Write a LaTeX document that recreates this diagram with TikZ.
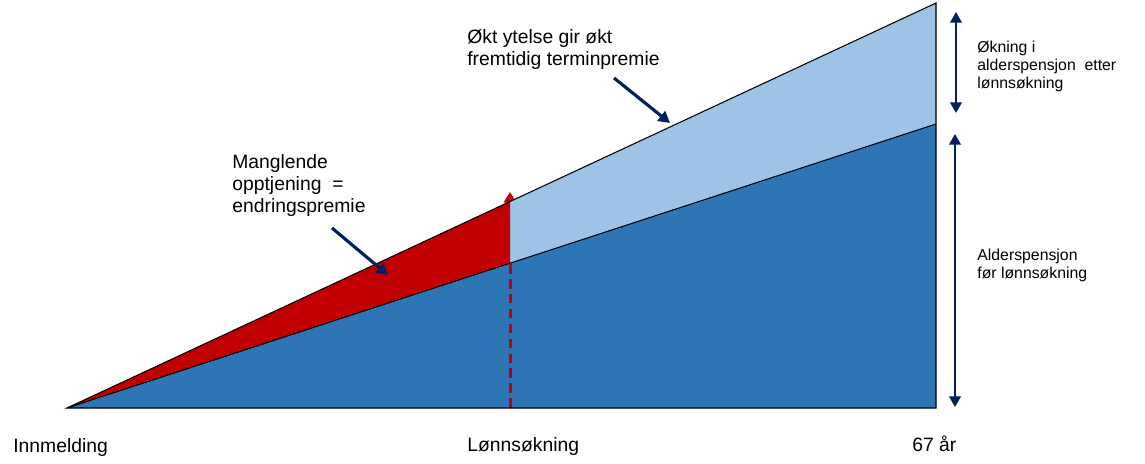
\documentclass[tikz,border=0pt]{standalone}
\usepackage{fontspec}
\setmainfont{Liberation Sans}
\usetikzlibrary{arrows.meta}
\definecolor{pensjonblue}{HTML}{2E75B6}
\definecolor{okningblue}{HTML}{9DC3E6}
\definecolor{premiered}{HTML}{C00000}
\definecolor{navy}{HTML}{002060}

\begin{document}
\begin{tikzpicture}
            [x=0.02cm, y=-0.02cm,
             txt/.style = {anchor=base west, inner sep=0pt, align=left, font=\fontsize{11}{12.5}\selectfont},
             sidetxt/.style = {anchor=base west, inner sep=0pt, align=left, font=\fontsize{9}{10.2}\selectfont},
             pointer/.style = {navy, line width=1.8pt, -{Triangle[length=6.5pt,width=7pt]}},
             span/.style = {navy, line width=1.3pt, {Triangle[length=6pt,width=6.5pt]}-{Triangle[length=6pt,width=6.5pt]}}]

            \useasboundingbox (0,0) rectangle (1145,463);

            \coordinate (o) at (67,408);
            \coordinate (top) at (936,3);
            \coordinate (mid) at (936,124);
            \coordinate (end) at (936,408);
            \coordinate (lonn) at (510,408);
            \coordinate (lonnhigh) at (510,201.5);
            \coordinate (lonnlow) at (510,263);
            \coordinate (lonntip) at (510,192);

            \draw[premiered, line width=1.7pt, dash pattern=on 5.5pt off 3pt,
                  -{Triangle[length=6pt,width=7pt]}] (lonn) -- (lonntip);

            \fill[pensjonblue] (o) -- (mid) -- (end) -- cycle;
            \fill[okningblue] (lonnlow) -- (mid) -- (top) -- (lonnhigh) -- cycle;
            \fill[premiered] (o) -- (lonnhigh) -- (lonnlow) -- cycle;
            \draw[premiered, line width=1.7pt, dash pattern=on 5.5pt off 3pt] (lonn) -- (lonnlow);
            \draw[line width=0.6pt] (o) -- (top) -- (end) -- cycle;
            \draw[line width=0.6pt] (o) -- (mid);

            % multi-line text: base is the last line
            \node[txt] (okt) at (467,65) {Økt ytelse gir økt\\fremtidig terminpremie};
            \node[txt] (mangl) at (232,212) {Manglende\\opptjening \ =\\endringspremie};
            \coordinate (oktfrom) at (614,78);
            \coordinate (oktto) at (670,123);
            \coordinate (manglfrom) at (332,228);
            \coordinate (manglto) at (388,275);
            \draw[pointer] (oktfrom) -- (oktto);
            \draw[pointer] (manglfrom) -- (manglto);

            \coordinate (okn1) at (956,12);
            \coordinate (okn2) at (956,113);
            \coordinate (ald1) at (955,134);
            \coordinate (ald2) at (955,407);
            \draw[span] (okn1) -- (okn2);
            \draw[span] (ald1) -- (ald2);
            \node[sidetxt] (okning) at (977,88) {Økning i\\alderspensjon \ etter\\lønnsøkning};
            \node[sidetxt] (alder) at (977,278) {Alderspensjon\\før lønnsøkning};

            \node[txt] (inn) at (13,452) {Innmelding};
            \node[txt] (lonntxt) at (467,451) {Lønnsøkning};
            \node[txt] (aar) at (912,451) {67 år};

        \end{tikzpicture}
\end{document}
